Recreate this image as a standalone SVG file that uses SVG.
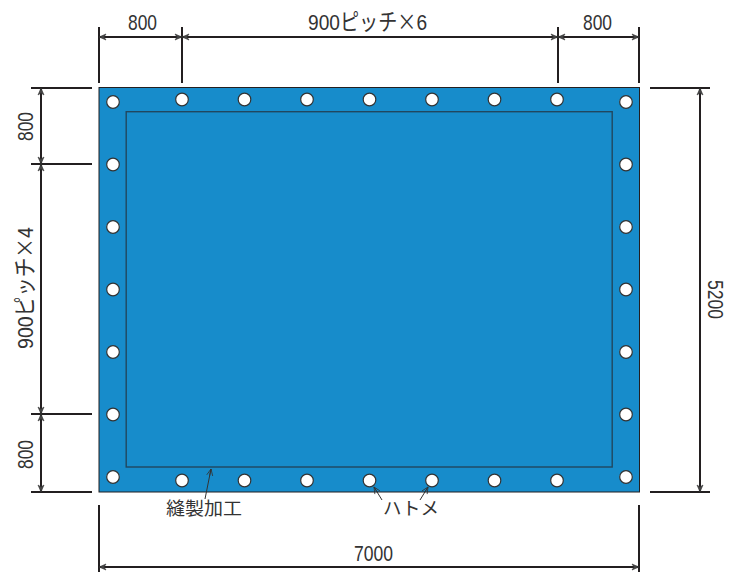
<svg xmlns="http://www.w3.org/2000/svg" width="741" height="572" viewBox="0 0 741 572">
<defs>
<marker id="a" markerWidth="9" markerHeight="8" refX="8" refY="4" orient="auto-start-reverse" markerUnits="userSpaceOnUse"><path d="M1 1L8 4L1 7L3 4Z" fill="#444" stroke="#333" stroke-width=".6"/></marker>
<marker id="s" markerWidth="9" markerHeight="8" refX="8" refY="4" orient="auto-start-reverse" markerUnits="userSpaceOnUse"><path d="M1.5 1L8 4L1.5 7M8 4H1" fill="none" stroke="#333" stroke-width=".8"/></marker>
</defs>
<style>
.t{font-family:"Liberation Sans","Noto Sans CJK JP",sans-serif;font-size:22.5px;fill:#333}
.x{font-family:"Noto Sans CJK JP",sans-serif}
.j{font-family:"Noto Sans CJK JP",sans-serif;font-size:18px;fill:#333}
.e{stroke:#231f20;stroke-width:2;fill:none}
.d{stroke:#231f20;stroke-width:2;fill:none;marker-start:url(#a);marker-end:url(#a)}
.l{stroke:#333;stroke-width:1;fill:none;marker-end:url(#s)}
.h{fill:#fff;stroke:#333;stroke-width:1.2}
</style>
<g id="sheet">
<rect x="99" y="87.5" width="540.5" height="404.5" fill="#178ccb" stroke="#231f20" stroke-width="1"/>
<rect x="126.2" y="111.7" width="486" height="355.3" fill="none" stroke="#21475f" stroke-width="1.4"/>
</g>
<g id="grommets">
<circle class="h" cx="113" cy="102" r="6.3"/><circle class="h" cx="113" cy="164.5" r="6.3"/><circle class="h" cx="113" cy="227" r="6.3"/><circle class="h" cx="113" cy="289.5" r="6.3"/><circle class="h" cx="113" cy="352" r="6.3"/><circle class="h" cx="113" cy="414.5" r="6.3"/><circle class="h" cx="113" cy="477" r="6.3"/>
<circle class="h" cx="626" cy="102" r="6.3"/><circle class="h" cx="626" cy="164.5" r="6.3"/><circle class="h" cx="626" cy="227" r="6.3"/><circle class="h" cx="626" cy="289.5" r="6.3"/><circle class="h" cx="626" cy="352" r="6.3"/><circle class="h" cx="626" cy="414.5" r="6.3"/><circle class="h" cx="626" cy="477" r="6.3"/>
<circle class="h" cx="182" cy="99.5" r="6.3"/><circle class="h" cx="244.5" cy="99.5" r="6.3"/><circle class="h" cx="307" cy="99.5" r="6.3"/><circle class="h" cx="369.5" cy="99.5" r="6.3"/><circle class="h" cx="432" cy="99.5" r="6.3"/><circle class="h" cx="494.5" cy="99.5" r="6.3"/><circle class="h" cx="557" cy="99.5" r="6.3"/>
<circle class="h" cx="182" cy="480.5" r="6.3"/><circle class="h" cx="244.5" cy="480.5" r="6.3"/><circle class="h" cx="307" cy="480.5" r="6.3"/><circle class="h" cx="369.5" cy="480.5" r="6.3"/><circle class="h" cx="432" cy="480.5" r="6.3"/><circle class="h" cx="494.5" cy="480.5" r="6.3"/><circle class="h" cx="557" cy="480.5" r="6.3"/>
</g>
<g id="connectors">
<path class="e" d="M99 27V83M182 27V83M558 27V83M639 27V83"/>
<path class="e" d="M31 88H92M31 164H92M31 414H92M31 492H92"/>
<path class="e" d="M650 88H710M650 492H710"/>
<path class="e" d="M99 505V572M639 505V572"/>
<path class="d" d="M99 37H182"/><path class="d" d="M182 37H558"/><path class="d" d="M558 37H639"/>
<path class="d" d="M41 88V164"/><path class="d" d="M41 164V414"/><path class="d" d="M41 414V492"/>
<path class="d" d="M700 88V492"/>
<path class="d" d="M99 567H639"/>
<path class="l" d="M205 499L211 469"/>
<path class="l" d="M382 500L374 487"/>
<path class="l" d="M420 500L428 487"/>
</g>
<g id="labels">
<text class="t" x="128" y="30" textLength="29" lengthAdjust="spacingAndGlyphs">800</text>
<text class="t" transform="translate(308 30) scale(.85 1)">900ピッチ<tspan class="x">×</tspan>6</text>
<text class="t" x="583" y="30" textLength="29" lengthAdjust="spacingAndGlyphs">800</text>
<text class="t" transform="translate(33 141) rotate(-90)" textLength="29" lengthAdjust="spacingAndGlyphs">800</text>
<text class="t" transform="translate(33 349) rotate(-90) scale(.87 1)">900ピッチ<tspan class="x">×</tspan>4</text>
<text class="t" transform="translate(33 469) rotate(-90)" textLength="29" lengthAdjust="spacingAndGlyphs">800</text>
<text class="t" transform="translate(708 280) rotate(90)" textLength="39" lengthAdjust="spacingAndGlyphs">5200</text>
<text class="t" x="354" y="561" textLength="39" lengthAdjust="spacingAndGlyphs">7000</text>
<text class="j" x="166" y="515" textLength="76" lengthAdjust="spacingAndGlyphs">縫製加工</text>
<text class="j" x="383" y="515" textLength="56" lengthAdjust="spacingAndGlyphs">ハトメ</text>
</g>
</svg>
